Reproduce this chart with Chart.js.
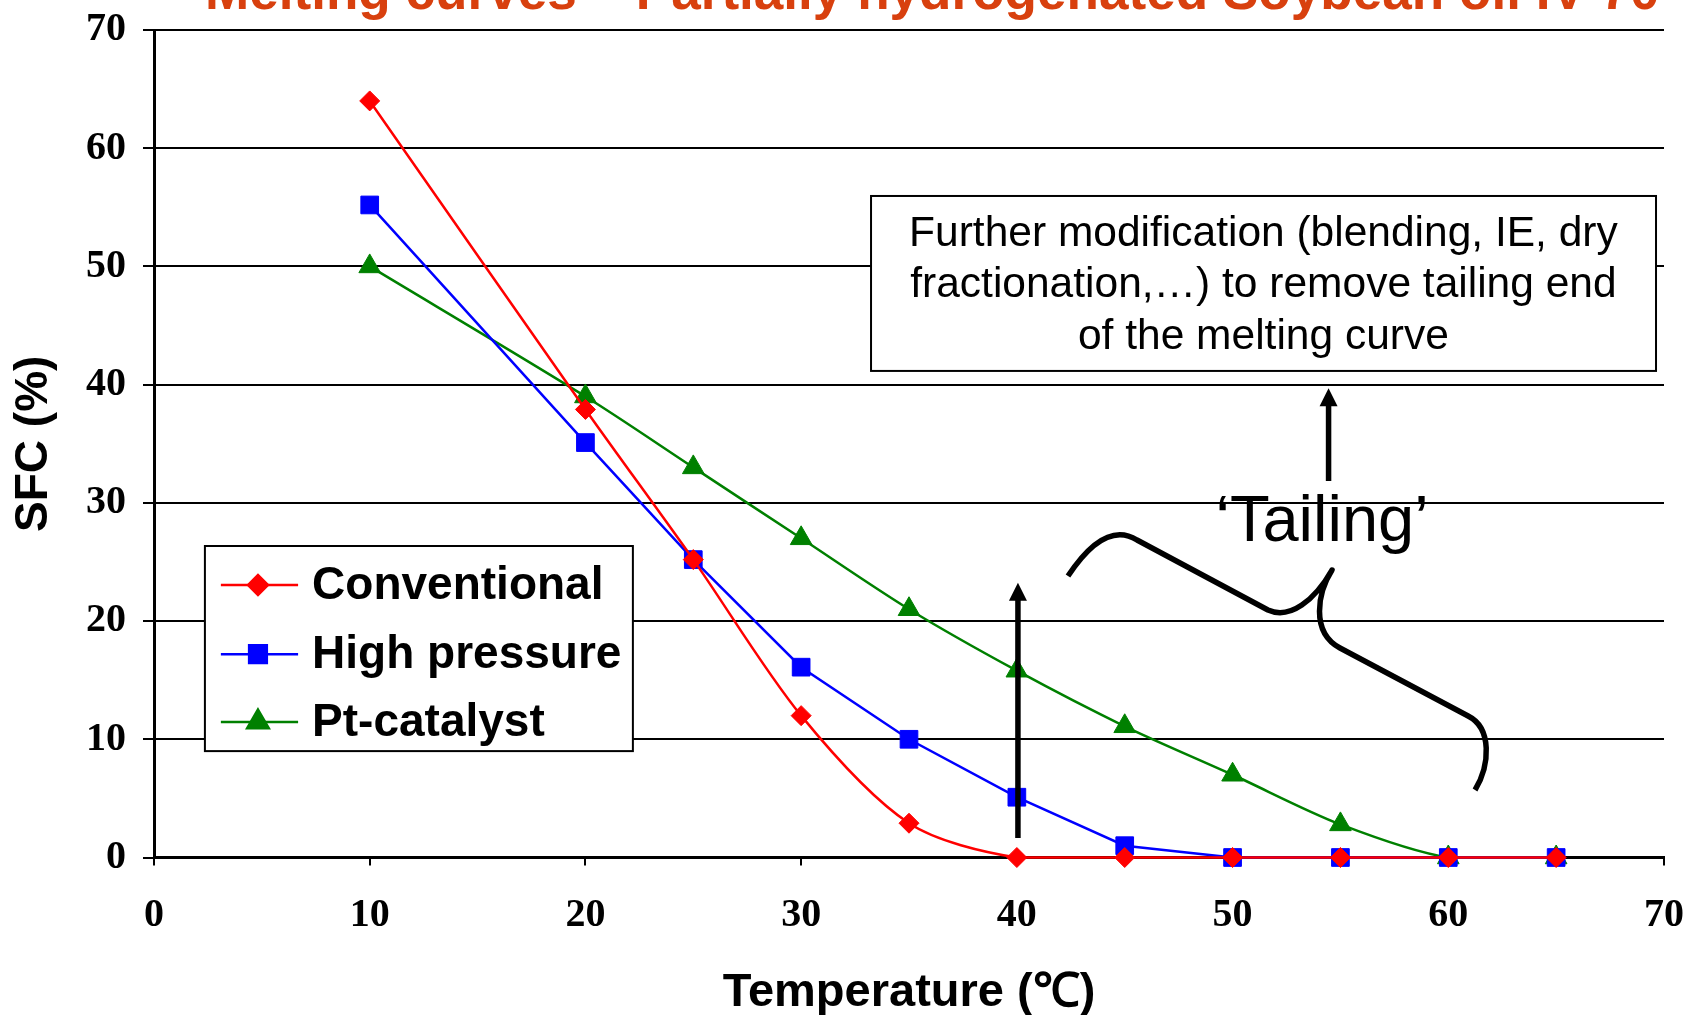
<!DOCTYPE html>
<html>
<head>
<meta charset="utf-8">
<script src="https://cdn.jsdelivr.net/npm/chart.js@4.4.1/dist/chart.umd.min.js"></script>
<style>
  html, body { margin: 0; padding: 0; background: #fff; }
  #wrap { width: 1689px; height: 1015px; }
</style>
</head>
<body>
<div id="wrap"><canvas id="sfcChart" width="1689" height="1015"></canvas></div>
<script>
// valores (SFC % vs temperatura)
const temps = [10, 20, 25, 30, 35, 40, 45, 50, 55, 60, 65];
const conventional = [64.0, 37.9, 25.2, 12.0, 2.9, 0, 0, 0, 0, 0, 0];
const highPressure = [55.2, 35.1, 25.2, 16.1, 10.0, 5.1, 1.0, 0, 0, 0, 0];
const ptCatalyst = [50.0, 39.0, 33.0, 27.0, 21.0, 15.8, 11.1, 7.0, 2.8, 0, 0];
const seriesNames = ['Conventional', 'High pressure', 'Pt-catalyst'];
const xTicks = [0, 10, 20, 30, 40, 50, 60, 70];
const yTicks = [0, 10, 20, 30, 40, 50, 60, 70];

const titleText = 'Melting curves \u2013 Partially hydrogenated Soybean oil IV 70';
const noteLines = [
    'Further modification (blending, IE, dry',
    'fractionation,\u2026) to remove tailing end',
    'of the melting curve'
];
const tailingText = '\u2018Tailing\u2019';

function toPoints(values) {
    return temps.map((t, i) => ({ x: t, y: values[i] }));
}

// dibuja una flecha vertical hacia arriba
function drawArrowUp(ctx, x, yBottom, yTip, width, headW, headL) {
    ctx.beginPath();
    ctx.lineWidth = width;
    ctx.moveTo(x, yBottom);
    ctx.lineTo(x, yTip + headL - 1);
    ctx.stroke();
    ctx.beginPath();
    ctx.moveTo(x, yTip);
    ctx.lineTo(x - headW / 2, yTip + headL);
    ctx.lineTo(x + headW / 2, yTip + headL);
    ctx.closePath();
    ctx.fill();
}

const extras = {
    id: 'extras',
    afterDatasetsDraw(chart) {
        const { ctx, scales: { x, y } } = chart;
        const px = v => x.getPixelForValue(v);
        const py = v => y.getPixelForValue(v);
        ctx.save();

        // leyenda con recuadro
        const lx0 = px(2.36), lx1 = px(22.2), ly0 = py(26.35), ly1 = py(9.0);
        ctx.fillStyle = '#fff';
        ctx.fillRect(lx0, ly0, lx1 - lx0, ly1 - ly0);
        ctx.strokeStyle = '#000';
        ctx.lineWidth = 2;
        ctx.strokeRect(lx0, ly0, lx1 - lx0, ly1 - ly0);
        const rows = [23.05, 17.2, 11.46];
        chart.data.datasets.forEach((ds, i) => {
            const ry = py(rows[i]);
            ctx.strokeStyle = ds.borderColor;
            ctx.lineWidth = ds.borderWidth;
            ctx.beginPath();
            ctx.moveTo(px(3.1), ry);
            ctx.lineTo(px(6.68), ry);
            ctx.stroke();
            ctx.fillStyle = ds.pointBackgroundColor;
            ctx.strokeStyle = ds.pointBorderColor;
            Chart.helpers.drawPoint(ctx, {
                pointStyle: ds.pointStyle, radius: ds.pointRadius, rotation: 0, borderWidth: 1
            }, px(4.82), ry);
            ctx.fillStyle = '#000';
            ctx.font = 'bold 46px "Liberation Sans", Arial, sans-serif';
            ctx.textBaseline = 'middle';
            ctx.textAlign = 'left';
            ctx.fillText(ds.label, px(7.33), ry + 1);
        });

        // recuadro de texto
        const bx0 = px(33.24), bx1 = px(69.63), by0 = py(55.96), by1 = py(41.16);
        ctx.fillStyle = '#fff';
        ctx.fillRect(bx0, by0, bx1 - bx0, by1 - by0);
        ctx.strokeStyle = '#000';
        ctx.lineWidth = 2;
        ctx.strokeRect(bx0, by0, bx1 - bx0, by1 - by0);
        ctx.fillStyle = '#000';
        ctx.font = '42.5px "Liberation Sans", Arial, sans-serif';
        ctx.textAlign = 'center';
        ctx.textBaseline = 'middle';
        const noteY = [52.7, 48.4, 43.99];
        noteLines.forEach((line, i) => ctx.fillText(line, px(51.43), py(noteY[i])));

        // 'Tailing'
        ctx.font = '65px "Liberation Sans", Arial, sans-serif';
        ctx.textBaseline = 'alphabetic';
        ctx.fillText(tailingText, px(54.15), py(26.8));

        // flechas
        ctx.fillStyle = '#000';
        ctx.strokeStyle = '#000';
        drawArrowUp(ctx, px(40.05), py(1.65), py(23.25), 5.5, 18, 18);
        drawArrowUp(ctx, px(54.45), py(31.85), py(39.69), 5.5, 18, 18);

        // llave (brace)
        ctx.lineWidth = 5.5;
        ctx.lineCap = 'butt';
        ctx.lineJoin = 'round';
        ctx.beginPath();
        ctx.moveTo(px(42.37), py(23.81));
        ctx.quadraticCurveTo(px(44.09), py(28.55), px(45.57), py(26.86));
        ctx.lineTo(px(51.64), py(20.94));
        ctx.bezierCurveTo(px(52.66), py(20.09), px(53.82), py(21.78), px(54.61), py(24.32));
        ctx.bezierCurveTo(px(53.96), py(22.46), px(53.59), py(19.08), px(54.98), py(17.72));
        ctx.lineTo(px(60.92), py(11.97));
        ctx.bezierCurveTo(px(62.03), py(10.95), px(61.94), py(7.82), px(61.24), py(5.71));
        ctx.stroke();

        ctx.restore();
    },
    afterDraw(chart) {
        // título recortado arriba
        const { ctx } = chart;
        ctx.save();
        ctx.font = 'bold 100px "Liberation Sans", Arial, sans-serif';
        const w = ctx.measureText(titleText).width;
        const size = 100 * 1454 / w;
        ctx.font = 'bold ' + size.toFixed(1) + 'px "Liberation Sans", Arial, sans-serif';
        ctx.fillStyle = '#D8400E';
        ctx.textAlign = 'left';
        ctx.textBaseline = 'alphabetic';
        ctx.fillText(titleText, 205, 9);
        ctx.restore();
    }
};

const ctx = document.getElementById('sfcChart').getContext('2d');
new Chart(ctx, {
    type: 'line',
    data: {
        datasets: [
            {
                label: seriesNames[0],
                data: toPoints(conventional),
                borderColor: '#FF0000',
                borderWidth: 2.5,
                pointStyle: 'rectRot',
                pointRadius: 10,
                pointBackgroundColor: '#FF0000',
                pointBorderColor: '#FF0000',
                pointBorderWidth: 1,
                tension: 0.3,
                clip: false
            },
            {
                label: seriesNames[1],
                data: toPoints(highPressure),
                borderColor: '#0000FF',
                borderWidth: 2.5,
                pointStyle: 'rect',
                pointRadius: 12.5,
                pointBackgroundColor: '#0000FF',
                pointBorderColor: '#0000FF',
                pointBorderWidth: 1,
                tension: 0,
                clip: false
            },
            {
                label: seriesNames[2],
                data: toPoints(ptCatalyst),
                borderColor: '#008000',
                borderWidth: 2.5,
                pointStyle: 'triangle',
                pointRadius: 12.5,
                pointBackgroundColor: '#008000',
                pointBorderColor: '#008000',
                pointBorderWidth: 1,
                tension: 0.3,
                clip: false
            }
        ]
    },
    options: {
        responsive: false,
        animation: false,
        devicePixelRatio: 1,
        layout: { padding: { top: 30, right: 25, left: 0, bottom: 0 } },
        plugins: {
            legend: { display: false },
            title: { display: false },
            tooltip: { enabled: false }
        },
        scales: {
            x: {
                type: 'linear',
                min: xTicks[0],
                max: xTicks[xTicks.length - 1],
                afterBuildTicks: s => { s.ticks = xTicks.map(v => ({ value: v })); },
                afterFit: s => { s.height = 157.5; s.paddingLeft = 0; s.paddingRight = 0; },
                grid: { drawOnChartArea: false, drawTicks: true, tickLength: 8, color: '#000', lineWidth: 2 },
                border: { color: '#000', width: 3 },
                ticks: {
                    color: '#000',
                    padding: 26,
                    maxRotation: 0,
                    font: { family: '"Liberation Serif", "Times New Roman", serif', weight: 'bold', size: 40 }
                },
                title: {
                    display: true,
                    text: 'Temperature (\u2103)',
                    color: '#000',
                    padding: { top: 0, bottom: 1 },
                    font: { family: '"Liberation Sans", Arial, sans-serif', weight: 'bold', size: 47, lineHeight: 0.9 }
                }
            },
            y: {
                min: yTicks[0],
                max: yTicks[yTicks.length - 1],
                afterBuildTicks: s => { s.ticks = yTicks.map(v => ({ value: v })); },
                afterFit: s => { s.width = 154; s.paddingTop = 0; s.paddingBottom = 0; },
                grid: { color: '#000', lineWidth: 2, drawTicks: true, tickLength: 11 },
                border: { color: '#000', width: 3 },
                ticks: {
                    color: '#000',
                    padding: 17,
                    font: { family: '"Liberation Serif", "Times New Roman", serif', weight: 'bold', size: 40 }
                },
                title: {
                    display: true,
                    text: 'SFC (%)',
                    color: '#000',
                    padding: { top: 7, bottom: 0 },
                    font: { family: '"Liberation Sans", Arial, sans-serif', weight: 'bold', size: 46, lineHeight: 1.2 }
                }
            }
        }
    },
    plugins: [extras]
});
</script>
</body>
</html>
